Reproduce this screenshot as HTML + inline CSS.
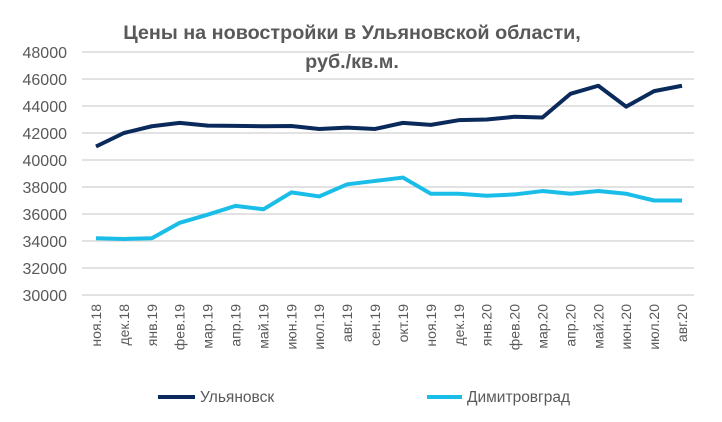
<!DOCTYPE html>
<html><head><meta charset="utf-8"><style>
body{margin:0;background:#fff}
svg text{font-family:"Liberation Sans","DejaVu Sans",sans-serif;fill:#595959}
</style></head><body>
<svg width="722" height="417" xmlns="http://www.w3.org/2000/svg">
<text x="352" y="39" text-anchor="middle" font-size="19.8" font-weight="bold">Цены на новостройки в Ульяновской области,</text>
<text x="352" y="68" text-anchor="middle" font-size="19.8" font-weight="bold">руб./кв.м.</text>
<g id="grid" stroke="#d9d9d9" stroke-width="1.5"></g>
<g id="yl" font-size="16" text-anchor="end"></g>
<g id="xl" font-size="14"></g>
<polyline id="d" fill="none" stroke="#0b2a5c" stroke-width="4" stroke-linejoin="round"/>
<polyline id="l" fill="none" stroke="#19bde8" stroke-width="4" stroke-linejoin="round"/>
<line x1="158" y1="397" x2="195" y2="397" stroke="#0b2a5c" stroke-width="4"/>
<text x="200" y="402" font-size="15.5">Ульяновск</text>
<line x1="427" y1="397" x2="462" y2="397" stroke="#19bde8" stroke-width="4"/>
<text x="467" y="402" font-size="15.5">Димитровград</text>
</svg>
<script>
var ns="http://www.w3.org/2000/svg";
function Y(v){return 295-(v-30000)*243/18000}
var g=document.getElementById('grid'),yl=document.getElementById('yl'),xl=document.getElementById('xl');
for(var v=30000;v<=48000;v+=2000){var y=Y(v);
var l=document.createElementNS(ns,'line');l.setAttribute('x1',82);l.setAttribute('x2',694);l.setAttribute('y1',y);l.setAttribute('y2',y);g.appendChild(l);
var t=document.createElementNS(ns,'text');t.setAttribute('x',67);t.setAttribute('y',y+6);t.textContent=v;yl.appendChild(t);}
var labs=["ноя.18","дек.18","янв.19","фев.19","мар.19","апр.19","май.19","июн.19","июл.19","авг.19","сен.19","окт.19","ноя.19","дек.19","янв.20","фев.20","мар.20","апр.20","май.20","июн.20","июл.20","авг.20"];
var D=[41000,42000,42500,42750,42550,42530,42500,42520,42300,42400,42300,42750,42600,42950,43000,43200,43150,44900,45500,43950,45100,45500];
var L=[34200,34150,34200,35350,35950,36600,36350,37600,37300,38200,38450,38700,37500,37500,37350,37450,37700,37500,37700,37500,37000,37000];
var pd=[],pl=[];
for(var i=0;i<22;i++){var x=96+i*(586/21);
pd.push(x+','+Y(D[i]));pl.push(x+','+Y(L[i]));
var t=document.createElementNS(ns,'text');t.setAttribute('transform','translate('+(x+5)+',304) rotate(-90)');t.setAttribute('text-anchor','end');t.textContent=labs[i];xl.appendChild(t);}
document.getElementById('d').setAttribute('points',pd.join(' '));
document.getElementById('l').setAttribute('points',pl.join(' '));
</script>
</body></html>
